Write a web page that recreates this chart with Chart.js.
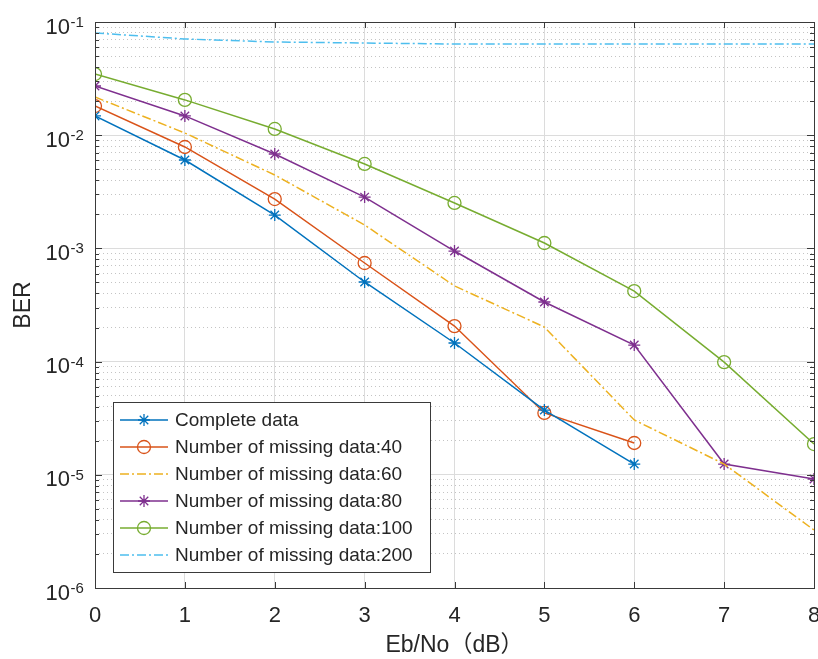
<!DOCTYPE html>
<html lang="en">
<head>
<meta charset="utf-8">
<title>BER vs Eb/No</title>
<script src="https://cdn.jsdelivr.net/npm/chart.js@4.4.1/dist/chart.umd.min.js"></script>
<style>
    body { margin: 0; background: #fff; }
    canvas { display: block; }
</style>
</head>
<body>
<canvas id="ber-chart" width="818" height="659"></canvas>
<script>
// Eb/No points (dB)
const ebno = [0, 1, 2, 3, 4, 5, 6, 7, 8];

// BER curves
const completeData = [0.0148, 0.00604, 0.00197, 5.05e-4, 1.46e-4, 3.73e-5, 1.245e-5];
const missing40 = [0.0181, 0.00787, 0.00273, 7.43e-4, 2.06e-4, 3.52e-5, 1.91e-5];
const missing60 = [0.02175, 0.01046, 0.00445, 0.00161, 4.66e-4, 2.02e-4, 3.05e-5, 1.245e-5, 3.25e-6];
const missing80 = [0.0272, 0.0148, 0.00682, 0.00284, 9.48e-4, 3.36e-4, 1.40e-4, 1.245e-5, 9.18e-6];
const missing100 = [0.0347, 0.0205, 0.01135, 0.00557, 0.00252, 0.001116, 4.2e-4, 9.9e-5, 1.87e-5];
const missing200 = [0.0800, 0.0708, 0.0666, 0.0652, 0.0639, 0.0639, 0.0639, 0.0639, 0.0639];

const seriesNames = [
    'Complete data',
    'Number of missing data:40',
    'Number of missing data:60',
    'Number of missing data:80',
    'Number of missing data:100',
    'Number of missing data:200'
];

// y axis: decades get a label, 2..9 only get a dotted grid line
const yDecades = [-6, -5, -4, -3, -2, -1];
const yMinorSteps = [2, 3, 4, 5, 6, 7, 8, 9];

const FONT = 'Liberation Sans, Arial, sans-serif';
const TEXT = '#262626';

const yTickValues = [];
yDecades.forEach(function (e) {
    yTickValues.push(Math.pow(10, e));
    if (e < -1) yMinorSteps.forEach(s => yTickValues.push(s * Math.pow(10, e)));
});

function isDecade(v) {
    const l = Math.log10(v);
    return Math.abs(l - Math.round(l)) < 1e-9;
}

function pts(vals) {
    return vals.map((v, i) => ({ x: ebno[i], y: v }));
}

const dashDot = [9, 3, 2, 3];

// box, inward ticks and tick labels (10^n on y) like a matlab axes
const axesBox = {
    id: 'axesBox',
    afterDraw(chart) {
        const ctx = chart.ctx;
        const a = chart.chartArea;
        const xs = chart.scales.x, ys = chart.scales.y;
        ctx.save();
        ctx.strokeStyle = '#3a3a3a';
        ctx.lineWidth = 1;
        ctx.beginPath();
        ebno.forEach(function (v) {
            const px = Math.round(xs.getPixelForValue(v)) + 0.5;
            ctx.moveTo(px, a.bottom); ctx.lineTo(px, a.bottom - 6);
            ctx.moveTo(px, a.top); ctx.lineTo(px, a.top + 6);
        });
        yTickValues.forEach(function (v) {
            const py = Math.round(ys.getPixelForValue(v)) + 0.5;
            const len = isDecade(v) ? 7 : 4;
            ctx.moveTo(a.left, py); ctx.lineTo(a.left + len, py);
            ctx.moveTo(a.right, py); ctx.lineTo(a.right - len, py);
        });
        ctx.stroke();
        ctx.strokeRect(Math.round(a.left) + 0.5, Math.round(a.top) + 0.5,
            Math.round(a.right - a.left), Math.round(a.bottom - a.top));

        ctx.fillStyle = TEXT;
        ctx.textBaseline = 'alphabetic';
        ctx.font = '22px ' + FONT;
        ctx.textAlign = 'center';
        ebno.forEach(function (v) {
            ctx.fillText(String(v), xs.getPixelForValue(v), a.bottom + 34);
        });
        yDecades.forEach(function (e) {
            const py = ys.getPixelForValue(Math.pow(10, e));
            const xr = a.left - 25;
            ctx.font = '22px ' + FONT;
            ctx.textAlign = 'right';
            ctx.fillText('10', xr, py + 11.5);
            ctx.font = '15px ' + FONT;
            ctx.textAlign = 'left';
            ctx.fillText(String(e), xr + 0.5, py + 5);
        });
        ctx.restore();
    }
};

// legend box in the lower left of the plot
const boxLegend = {
    id: 'boxLegend',
    afterDraw(chart) {
        const ctx = chart.ctx;
        const left = 113, top = 402, w = 317, h = 170, rowH = 27;
        ctx.save();
        ctx.fillStyle = '#fff';
        ctx.fillRect(left, top, w, h);
        ctx.strokeStyle = '#3a3a3a';
        ctx.lineWidth = 1;
        ctx.strokeRect(left + 0.5, top + 0.5, w, h);
        chart.data.datasets.forEach(function (ds, i) {
            const y = top + 18 + i * rowH;
            ctx.strokeStyle = ds.borderColor;
            ctx.lineWidth = ds.borderWidth;
            ctx.setLineDash(ds.borderDash || []);
            ctx.beginPath();
            ctx.moveTo(120, y); ctx.lineTo(168, y);
            ctx.stroke();
            ctx.setLineDash([]);
            if (ds.pointRadius > 0) {
                ctx.fillStyle = 'rgba(0,0,0,0)';
                ctx.lineWidth = ds.pointBorderWidth;
                Chart.helpers.drawPoint(ctx, {
                    pointStyle: ds.pointStyle, radius: ds.pointRadius,
                    borderWidth: ds.pointBorderWidth, rotation: 0
                }, 144, y);
            }
            ctx.fillStyle = TEXT;
            ctx.font = '19px ' + FONT;
            ctx.textAlign = 'left';
            ctx.textBaseline = 'middle';
            ctx.fillText(ds.label, 175, y + 1);
        });
        ctx.restore();
    }
};

function series(label, vals, color, opts) {
    return Object.assign({
        label: label,
        data: pts(vals),
        borderColor: color,
        backgroundColor: color,
        borderWidth: 1.5,
        pointBorderColor: color,
        pointBackgroundColor: 'rgba(0,0,0,0)',
        pointBorderWidth: 1.3,
        pointRadius: 0,
        tension: 0
    }, opts);
}

new Chart(document.getElementById('ber-chart'), {
    type: 'line',
    data: {
        datasets: [
            series(seriesNames[0], completeData, '#0072BD', { pointStyle: 'star', pointRadius: 6 }),
            series(seriesNames[1], missing40, '#D95319', { pointStyle: 'circle', pointRadius: 6.5 }),
            series(seriesNames[2], missing60, '#EDB120', { borderDash: dashDot }),
            series(seriesNames[3], missing80, '#7E2F8E', { pointStyle: 'star', pointRadius: 6 }),
            series(seriesNames[4], missing100, '#77AC30', { pointStyle: 'circle', pointRadius: 6.5 }),
            series(seriesNames[5], missing200, '#4DBEEE', { borderDash: dashDot })
        ]
    },
    options: {
        responsive: false,
        animation: false,
        layout: { autoPadding: false, padding: { left: 0, right: 4, top: 22, bottom: 0 } },
        plugins: {
            legend: { display: false },
            tooltip: { enabled: false }
        },
        scales: {
            x: {
                type: 'linear',
                min: 0,
                max: 8,
                ticks: { stepSize: 1, display: false },
                grid: { color: '#dcdcdc', drawTicks: false },
                border: { display: false },
                title: {
                    display: true,
                    text: 'Eb/No（dB）',
                    color: TEXT,
                    font: { family: 'Liberation Sans, "Noto Sans CJK SC", sans-serif', size: 23 },
                    padding: { top: 0, bottom: 0 }
                },
                afterFit(scale) {
                    scale.height = 71;
                }
            },
            y: {
                type: 'logarithmic',
                min: 1e-6,
                max: 1e-1,
                afterBuildTicks(scale) {
                    scale.ticks = yTickValues.map(v => ({ value: v }));
                },
                ticks: { display: false },
                grid: {
                    color: c => (c.tick && !isDecade(c.tick.value)) ? '#c4c4c4' : '#dcdcdc',
                    drawTicks: false
                },
                border: {
                    display: false,
                    dash: c => (c.tick && !isDecade(c.tick.value)) ? [1, 3] : []
                },
                title: {
                    display: true,
                    text: 'BER',
                    color: TEXT,
                    font: { family: FONT, size: 23 },
                    padding: { top: 10, bottom: 0 }
                },
                afterFit(scale) {
                    scale.width = 95;
                }
            }
        }
    },
    plugins: [axesBox, boxLegend]
});
</script>
</body>
</html>
